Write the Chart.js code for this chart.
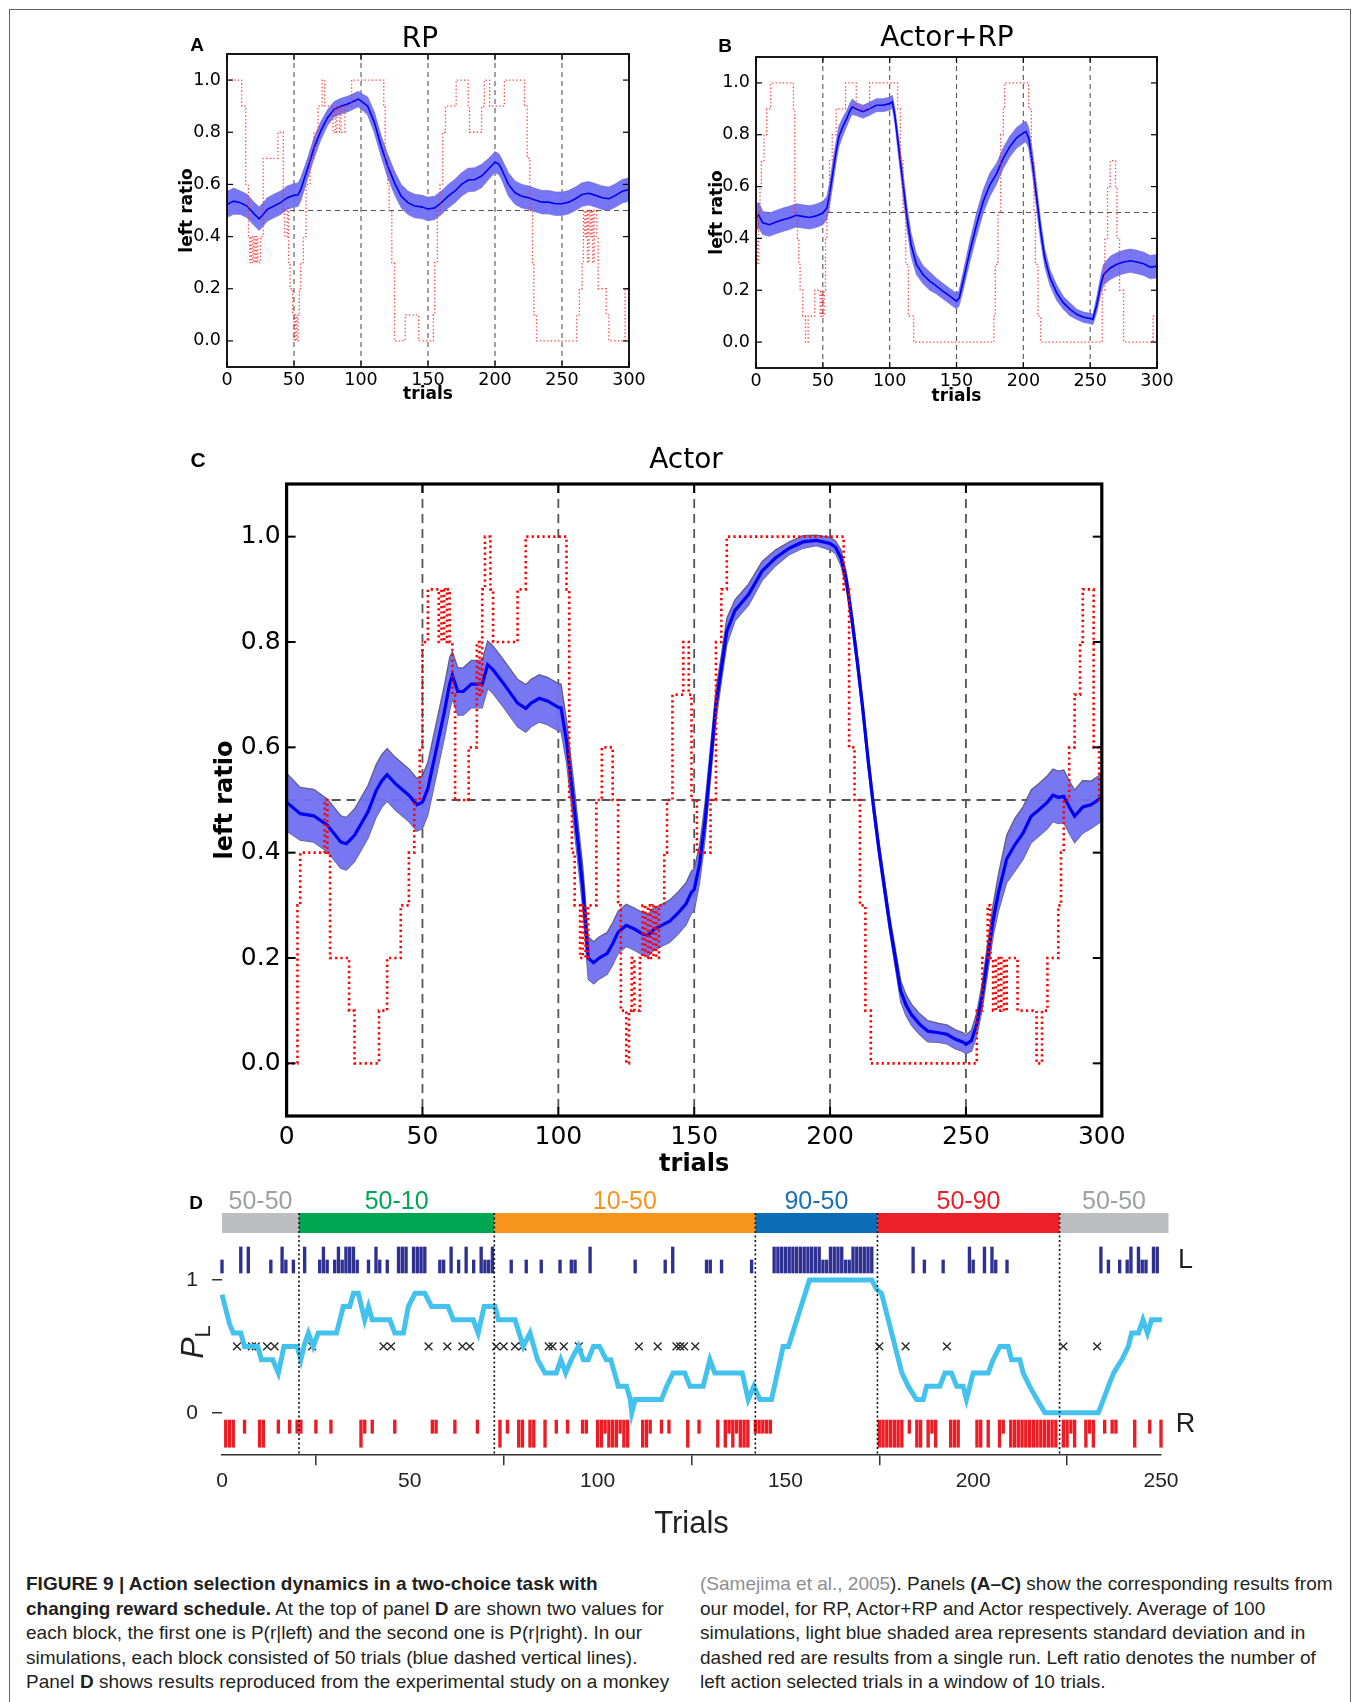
<!DOCTYPE html>
<html>
<head>
<meta charset="utf-8">
<script src="https://cdn.jsdelivr.net/npm/chart.js@4.4.1/dist/chart.umd.min.js"></script>
<style>
html, body { margin: 0; padding: 0; background: #fff; }
body { width: 1359px; height: 1702px; position: relative; overflow: hidden; }
#box { position: absolute; left: 9px; top: 9px; width: 1340px; height: 1760px; border: 1px solid #666; border-bottom: none; }
canvas { position: absolute; }
.t { position: absolute; white-space: nowrap; line-height: 1; transform: translate(-50%, -50%); }
.letter { font-family: "Liberation Sans", Arial, sans-serif; font-weight: bold; font-size: 19px; color: #000; }
.ptitle { font-family: "DejaVu Sans", sans-serif; font-size: 28px; color: #000; }
.cap { position: absolute; font-size: 19px; line-height: 24.6px; color: #231f20; font-family: "Liberation Sans", Arial, sans-serif; }
.cap div { white-space: nowrap; }
.cite { color: #8c8e90; }
</style>
</head>
<body>
<div id="box"></div>

<canvas id="cA" width="495" height="370" style="left:165px;top:40px"></canvas>
<canvas id="cB" width="494" height="371" style="left:694px;top:40px"></canvas>
<canvas id="cC" width="945" height="715" style="left:200px;top:470px"></canvas>
<canvas id="cD" width="1070" height="380" style="left:150px;top:1170px"></canvas>

<div class="t letter" style="left:197px;top:44px">A</div>
<div class="t ptitle" style="left:420px;top:38px">RP</div>
<div class="t letter" style="left:725px;top:45px">B</div>
<div class="t ptitle" style="left:947px;top:37px">Actor+RP</div>
<div class="t letter" style="left:198px;top:459px;font-size:21px">C</div>
<div class="t ptitle" style="left:686px;top:459px">Actor</div>
<div class="t letter" style="left:196px;top:1202px">D</div>
<div class="t" style="left:192px;top:1342px;transform:translate(-50%,-50%) rotate(-90deg);font-family:'Liberation Sans',Arial,sans-serif;font-size:32px;color:#231f20"><i>P</i><span style="font-size:22px;position:relative;top:7px">L</span></div>

<div class="cap" style="left:26px;top:1572px">
  <div><b>FIGURE 9 | Action selection dynamics in a two-choice task with</b></div>
  <div><b>changing reward schedule.</b> At the top of panel <b>D</b> are shown two values for</div>
  <div>each block, the first one is P(r|left) and the second one is P(r|right). In our</div>
  <div>simulations, each block consisted of 50 trials (blue dashed vertical lines).</div>
  <div>Panel <b>D</b> shows results reproduced from the experimental study on a monkey</div>
</div>
<div class="cap" style="left:700px;top:1572px">
  <div><span class="cite">(Samejima et al., 2005</span>). Panels <b>(A–C)</b> show the corresponding results from</div>
  <div>our model, for RP, Actor+RP and Actor respectively. Average of 100</div>
  <div>simulations, light blue shaded area represents standard deviation and in</div>
  <div>dashed red are results from a single run. Left ratio denotes the number of</div>
  <div>left action selected trials in a window of 10 trials.</div>
</div>

<script>
// --- tick labels / reference lines shared by A-C ---
const xTicks = [0, 50, 100, 150, 200, 250, 300];
const yTicks = [0, 0.2, 0.4, 0.6, 0.8, 1.0];
const dashedTrials = [50, 100, 150, 200, 250];
const chanceLevel = 0.5;

// --- A: RP ---
const rpTrials = [0,5,10,15,20,24,27,30,35,40,45,50,53,55,60,65,70,75,80,85,90,95,98,100,105,110,115,120,125,130,135,140,145,150,155,160,165,170,175,180,185,190,195,200,203,205,210,215,220,225,230,235,240,245,250,255,260,265,270,275,280,285,290,295,300];
const rpMean = [.523,.536,.53,.517,.488,.468,.485,.504,.517,.53,.549,.558,.56,.58,.658,.741,.805,.856,.888,.90,.908,.92,.927,.92,.90,.837,.747,.67,.606,.555,.53,.517,.514,.506,.51,.53,.555,.574,.60,.617,.619,.632,.658,.686,.677,.658,.60,.568,.555,.549,.54,.532,.532,.526,.526,.532,.545,.561,.566,.558,.549,.545,.558,.574,.58];
const rpSd = [.05,.05,.045,.045,.045,.045,.045,.045,.045,.045,.045,.045,.045,.045,.04,.04,.035,.03,.03,.03,.03,.03,.03,.03,.035,.04,.04,.045,.045,.045,.045,.045,.045,.045,.045,.045,.045,.045,.045,.045,.045,.045,.04,.04,.04,.04,.045,.045,.045,.045,.045,.045,.045,.045,.045,.045,.045,.045,.045,.045,.045,.045,.045,.045,.045];
const rpRun = [[0,1.0],[11,0.9],[14,0.6],[16,0.4],[17,0.3],[18,0.4],[19,0.3],[20,0.4],[21,0.3],[22,0.4],[23,0.3],[25,0.4],[27,0.7],[38,0.8],[42,0.5],[43,0.4],[45,0.5],[46,0.3],[47,0.2],[49,0.1],[50,0.0],[51,0.1],[52,0.0],[53,0.1],[54,0.2],[55,0.3],[57,0.4],[59,0.6],[62,0.7],[65,0.8],[68,0.9],[71,1.0],[73,0.9],[79,0.8],[81,0.9],[82,0.8],[84,0.9],[85,0.8],[88,0.9],[93,1.0],[117,0.9],[118,0.7],[120,0.6],[121,0.5],[123,0.3],[125,0.0],[133,0.1],[143,0.0],[154,0.1],[155,0.3],[157,0.5],[159,0.6],[161,0.8],[163,0.9],[171,1.0],[180,0.9],[181,0.8],[190,0.9],[192,1.0],[196,0.9],[207,1.0],[222,0.9],[224,0.7],[226,0.5],[228,0.3],[229,0.1],[231,0.0],[261,0.1],[263,0.2],[265,0.3],[266,0.5],[267,0.4],[268,0.5],[269,0.3],[270,0.5],[271,0.4],[272,0.5],[273,0.3],[274,0.5],[276,0.4],[277,0.2],[283,0.1],[285,0.0],[297,0.2],[300,0.2]];

// --- B: Actor+RP ---
const arpTrials = [0,2,5,10,15,20,25,30,35,40,45,50,53,55,58,60,62,65,68,70,72,75,80,85,90,95,100,102,104,107,110,113,116,120,125,130,135,140,145,150,152,155,160,165,170,175,180,185,190,195,200,202,204,207,210,213,216,220,225,230,235,240,245,250,252,255,258,260,265,270,275,280,285,290,295,300];
const arpMean = [.479,.49,.46,.453,.463,.472,.479,.489,.485,.481,.487,.498,.517,.569,.67,.736,.793,.832,.864,.889,.908,.899,.889,.90,.914,.914,.92,.927,.869,.74,.61,.479,.376,.30,.26,.235,.216,.196,.177,.158,.17,.235,.35,.453,.543,.607,.65,.71,.755,.788,.807,.812,.788,.685,.555,.427,.325,.248,.19,.151,.126,.107,.096,.091,.087,.145,.222,.26,.286,.30,.309,.314,.309,.302,.289,.293];
const arpSd = [.05,.05,.045,.045,.045,.045,.045,.045,.045,.045,.045,.045,.045,.045,.045,.04,.04,.035,.03,.03,.03,.025,.025,.025,.025,.025,.025,.025,.03,.04,.045,.045,.045,.04,.035,.035,.03,.03,.03,.03,.03,.035,.04,.045,.045,.045,.04,.04,.04,.04,.04,.04,.04,.045,.045,.04,.035,.03,.03,.025,.025,.02,.02,.02,.02,.03,.035,.04,.045,.045,.045,.045,.045,.045,.045,.045];
const arpRun = [[0,0.4],[1,0.3],[2,0.5],[3,0.6],[4,0.7],[6,0.8],[8,0.9],[11,1.0],[28,0.9],[29,0.5],[31,0.4],[32,0.3],[33,0.2],[35,0.1],[37,0.0],[39,0.1],[44,0.2],[48,0.1],[49,0.2],[50,0.1],[51,0.2],[52,0.4],[53,0.5],[55,0.7],[57,0.8],[60,0.9],[67,1.0],[75,0.9],[85,1.0],[106,0.9],[108,0.7],[110,0.5],[112,0.3],[114,0.1],[118,0.0],[178,0.1],[179,0.3],[181,0.5],[183,0.8],[185,0.9],[186,1.0],[204,0.9],[206,0.7],[208,0.5],[209,0.3],[211,0.1],[213,0.0],[259,0.2],[261,0.4],[263,0.6],[265,0.7],[269,0.6],[270,0.4],[272,0.2],[275,0.0],[297,0.1],[300,0.1]];

// --- C: Actor ---
const actTrials = [0,5,10,15,20,22,25,30,33,35,37,40,45,48,50,52,55,58,60,61,63,65,68,72,74,76,80,85,88,90,93,96,100,101,103,106,109,111,113,115,118,120,122,125,128,131,133,135,138,141,144,147,149,150,152,154,156,158,160,162,165,170,175,180,185,190,195,200,202,204,206,208,210,212,214,216,218,220,222,224,226,228,230,233,236,240,243,246,249,250,252,254,256,258,260,262,265,268,271,274,277,280,282,284,286,288,290,293,296,300];
const actMean = [.496,.474,.47,.452,.42,.417,.433,.478,.518,.536,.548,.531,.509,.491,.496,.522,.594,.666,.72,.737,.706,.706,.72,.72,.757,.747,.72,.684,.674,.684,.693,.688,.676,.675,.612,.478,.334,.2,.191,.2,.209,.227,.249,.262,.255,.246,.243,.254,.262,.27,.285,.303,.325,.33,.379,.46,.57,.68,.75,.82,.86,.89,.935,.96,.978,.99,.993,.987,.98,.96,.917,.845,.764,.675,.576,.487,.406,.334,.262,.2,.137,.11,.092,.074,.061,.058,.055,.046,.04,.036,.043,.074,.128,.2,.272,.325,.388,.415,.437,.469,.482,.496,.509,.505,.507,.487,.469,.487,.491,.505];
const actSd = [.055,.05,.05,.05,.05,.05,.05,.05,.05,.05,.05,.05,.05,.05,.05,.05,.05,.05,.05,.045,.045,.045,.045,.045,.045,.045,.045,.045,.045,.045,.045,.045,.045,.045,.04,.04,.04,.04,.04,.04,.04,.04,.04,.04,.04,.04,.04,.04,.04,.04,.04,.04,.04,.04,.035,.035,.03,.03,.025,.025,.02,.02,.018,.015,.012,.012,.01,.012,.012,.015,.015,.015,.015,.015,.015,.015,.015,.015,.015,.018,.02,.02,.02,.02,.02,.018,.018,.018,.018,.018,.02,.022,.025,.028,.03,.035,.045,.05,.05,.05,.05,.05,.05,.05,.05,.05,.05,.05,.045,.045];
const actRun = [[0,0.0],[4,0.3],[5,0.4],[14,0.5],[15,0.4],[16,0.2],[23,0.1],[25,0.0],[34,0.1],[37,0.2],[42,0.3],[45,0.4],[47,0.5],[49,0.6],[50,0.8],[52,0.9],[56,0.8],[57,0.9],[58,0.8],[59,0.9],[60,0.8],[61,0.7],[62,0.5],[67,0.6],[70,0.8],[71,0.7],[72,0.9],[73,1.0],[75,0.9],[76,0.8],[85,0.9],[88,1.0],[103,0.9],[104,0.5],[105,0.4],[106,0.3],[108,0.2],[109,0.3],[110,0.2],[111,0.3],[114,0.5],[116,0.6],[120,0.5],[122,0.3],[123,0.1],[125,0.0],[126,0.1],[127,0.2],[128,0.1],[130,0.2],[131,0.3],[132,0.2],[133,0.3],[134,0.2],[135,0.3],[136,0.2],[137,0.3],[139,0.4],[140,0.5],[142,0.7],[146,0.8],[148,0.7],[149,0.5],[151,0.4],[156,0.5],[158,0.8],[160,0.9],[162,1.0],[205,0.9],[207,0.6],[209,0.5],[211,0.3],[213,0.1],[215,0.0],[254,0.1],[256,0.2],[258,0.3],[259,0.2],[260,0.1],[261,0.2],[262,0.1],[263,0.2],[264,0.1],[265,0.2],[269,0.1],[276,0.0],[278,0.1],[280,0.2],[284,0.3],[285,0.4],[286,0.5],[288,0.6],[290,0.7],[292,0.8],[293,0.9],[297,0.6],[299,0.5],[300,0.5]];

// --- D: monkey data (Samejima et al.) ---
const dTicks = [0, 50, 100, 150, 200, 250];
const plTicks = [0, 1];
const blockLabels = ['50-50', '50-10', '10-50', '90-50', '50-90', '50-50'];
const blockEdges = [0, 20.5, 72.5, 142, 174.5, 223, 252];
const blockColors = ['#bcbec0', '#00a651', '#f7941d', '#0a6db5', '#ec2029', '#bcbec0'];
const blockTextColors = ['#9d9fa2', '#00a651', '#f7941d', '#1a6fb5', '#ec2029', '#9d9fa2'];
const plTrials = [0,1,2,3,5,6,9.5,10.5,13.5,15,16.5,20,21,22,23,24.3,25.6,30.5,32.3,34,35,36.3,38,39,40,44.7,46,48.3,49.6,51.4,54,55.8,60.2,61.6,66.9,68.2,69.8,72.7,73.6,78,80.2,82,84,86,89,90.2,91.5,93,94.9,96.2,97.5,98.9,100.5,102.3,103.5,105.5,107.7,108.7,109.1,110,117,118.4,120.1,123.2,124.6,128.1,129.9,131.2,138.5,140.1,141.6,143.2,146.3,149.4,150.8,156.4,173,174.3,175.6,181,182.7,184.9,186.7,187.6,191.1,192.5,194.2,195.6,197.3,198.2,200,204,205.3,207.1,209.3,210.2,212.4,213.3,215,217,219.1,233.3,234.7,236,237.4,239.6,241.3,242.2,244,245.2,246.4,247.5,250.3];
const plValues = [0.89,0.78,0.67,0.6,0.6,0.5,0.5,0.4,0.4,0.3,0.5,0.5,0.4,0.52,0.6,0.5,0.6,0.6,0.8,0.8,0.9,0.9,0.7,0.8,0.7,0.7,0.6,0.6,0.8,0.9,0.9,0.8,0.8,0.7,0.7,0.6,0.8,0.8,0.7,0.7,0.5,0.6,0.4,0.3,0.3,0.4,0.3,0.4,0.5,0.4,0.4,0.5,0.5,0.4,0.4,0.2,0.2,0.1,0.0,0.1,0.1,0.2,0.3,0.3,0.2,0.2,0.4,0.3,0.3,0.1,0.2,0.1,0.1,0.5,0.5,1.0,1.0,0.93,0.9,0.3,0.2,0.1,0.1,0.2,0.2,0.3,0.3,0.2,0.2,0.1,0.3,0.3,0.4,0.5,0.5,0.4,0.4,0.3,0.2,0.1,0.0,0.0,0.1,0.2,0.3,0.4,0.5,0.6,0.6,0.7,0.6,0.7,0.7];
const skipTrials = [4,8,9,12,14,24,43,45,55,60,64,66,73,75,78,80,87,88,91,95,111,116,121,122,123,126,175,182,193,224,233];
const leftTall = [5,7,16,22,27,31,33,34,35,41,47,48,49,51,52,53,54,61,65,69,72,98,120,147,148,149,150,151,152,153,154,155,156,157,158,159,162,163,164,165,168,169,170,171,172,173,184,199,203,205,234,242,244,248,249];
const leftShort = [0,13,17,19,26,28,30,32,36,39,42,44,58,59,63,67,70,71,77,81,85,90,93,94,110,118,129,130,133,141,160,161,166,167,187,192,200,206,209,236,239,241,245,246];
const rightTall = [1,2,3,10,11,37,74,79,80,82,83,86,100,101,103,104,105,107,108,112,113,124,132,134,136,138,139,140,175,176,177,178,179,180,181,185,186,188,190,194,195,196,201,202,204,207,210,211,212,213,214,215,216,217,218,219,220,221,222,224,225,227,230,232,243,250];
const rightShort = [6,15,18,20,21,25,29,38,40,46,56,57,62,68,76,89,92,96,97,102,106,114,117,119,127,135,137,142,143,144,145,146,183,189,208,226,231,235,237,238,247];

Chart.defaults.font.family = '"DejaVu Sans", sans-serif';
Chart.defaults.color = '#000';

function seg(ctx, x0, y0, x1, y1) {
    ctx.beginPath();
    ctx.moveTo(x0, y0);
    ctx.lineTo(x1, y1);
    ctx.stroke();
}

// matplotlib-like box: dashed guides, inward ticks, black frame
function framePlugin(st) {
    return {
        id: 'frame',
        beforeDatasetsDraw(chart) {
            const { ctx, chartArea: a, scales: { x, y } } = chart;
            ctx.save();
            ctx.strokeStyle = st.dashColor;
            ctx.lineWidth = st.dashW;
            ctx.setLineDash(st.dash);
            dashedTrials.forEach(v => {
                const px = x.getPixelForValue(v);
                seg(ctx, px, a.top, px, a.bottom);
            });
            const py = y.getPixelForValue(chanceLevel);
            seg(ctx, a.left, py, a.right, py);
            ctx.restore();
        },
        afterDatasetsDraw(chart) {
            const { ctx, chartArea: a, scales: { x, y } } = chart;
            ctx.save();
            ctx.strokeStyle = '#000';
            ctx.lineWidth = st.tickW;
            xTicks.forEach(v => {
                const px = x.getPixelForValue(v);
                seg(ctx, px, a.bottom, px, a.bottom - st.tickLen);
                seg(ctx, px, a.top, px, a.top + st.tickLen);
            });
            yTicks.forEach(v => {
                const py = y.getPixelForValue(v);
                seg(ctx, a.left, py, a.left + st.tickLen, py);
                seg(ctx, a.right, py, a.right - st.tickLen, py);
            });
            ctx.lineWidth = st.frameW;
            ctx.strokeRect(a.left, a.top, a.width, a.height);
            ctx.restore();
        }
    };
}

function ratioChart(id, trials, mean, sd, run, st) {
    const lower = trials.map((t, i) => ({ x: t, y: mean[i] - sd[i] }));
    const upper = trials.map((t, i) => ({ x: t, y: mean[i] + sd[i] }));
    const avg = trials.map((t, i) => ({ x: t, y: mean[i] }));
    const single = run.map(p => ({ x: p[0], y: p[1] }));
    return new Chart(document.getElementById(id), {
        type: 'line',
        data: {
            datasets: [
                { data: lower, borderColor: st.bandEdge, borderWidth: st.bandEdgeW, fill: false, order: 3 },
                { data: upper, borderColor: st.bandEdge, borderWidth: st.bandEdgeW, backgroundColor: st.band, fill: '-1', order: 2 },
                { data: avg, borderColor: '#0000f5', borderWidth: st.meanW, fill: false, order: 1 },
                { data: single, borderColor: st.runColor, borderWidth: st.runW, borderDash: st.runDash, stepped: 'before', fill: false, order: 0 }
            ]
        },
        options: {
            responsive: false,
            devicePixelRatio: 1,
            animation: false,
            layout: { padding: { left: 0, top: st.padTop, right: st.padRight, bottom: 0 } },
            elements: { point: { radius: 0 }, line: { tension: 0 } },
            plugins: { legend: { display: false }, tooltip: { enabled: false } },
            scales: {
                x: {
                    type: 'linear', min: 0, max: 300,
                    grid: { display: false, drawTicks: false }, border: { display: false },
                    afterBuildTicks: s => { s.ticks = xTicks.map(v => ({ value: v })); },
                    afterFit: s => { s.height = st.xH; s.paddingLeft = 0; s.paddingRight = 0; },
                    ticks: { font: { size: st.tickSize }, padding: st.xLabelPad, maxRotation: 0, autoSkip: false, callback: v => v },
                    title: { display: true, text: 'trials', font: { size: st.labelSize, weight: 'bold' }, padding: { top: 0, bottom: st.xTitlePad } }
                },
                y: {
                    type: 'linear', min: -0.1, max: 1.1,
                    grid: { display: false, drawTicks: false }, border: { display: false },
                    afterBuildTicks: s => { s.ticks = yTicks.map(v => ({ value: v })); },
                    afterFit: s => { s.width = st.yW; s.paddingTop = 0; s.paddingBottom = 0; },
                    ticks: { font: { size: st.tickSize }, padding: st.yLabelPad, callback: v => v.toFixed(1) },
                    title: { display: true, text: 'left ratio', font: { size: st.labelSize, weight: 'bold' }, padding: { top: st.yTitlePad, bottom: 0 } }
                }
            }
        },
        plugins: [framePlugin(st)]
    });
}

const smallStyle = {
    tickSize: 17.5, labelSize: 17, xH: 43, yW: 62, padTop: 14, padRight: 31,
    xLabelPad: 3, yLabelPad: 6, xTitlePad: 5, yTitlePad: 12,
    band: 'rgba(112,112,245,0.95)', bandEdge: 'rgba(90,90,190,0.7)', bandEdgeW: 0.8,
    meanW: 1.6, runColor: 'rgba(255,40,40,0.85)', runW: 1.3, runDash: [1.4, 2.2],
    dashColor: '#555', dashW: 1.1, dash: [5, 4], tickLen: 6, tickW: 1.2, frameW: 1.8
};

ratioChart('cA', rpTrials, rpMean, rpSd, rpRun, smallStyle);
ratioChart('cB', arpTrials, arpMean, arpSd, arpRun, Object.assign({}, smallStyle, { padTop: 17, xTitlePad: 4, yTitlePad: 13 }));
ratioChart('cC', actTrials, actMean, actSd, actRun, {
    tickSize: 25, labelSize: 24, xH: 69, yW: 86.6, padTop: 14, padRight: 43.2,
    xLabelPad: 6, yLabelPad: 6, xTitlePad: 6, yTitlePad: 11,
    band: 'rgba(112,112,240,0.95)', bandEdge: 'rgba(85,85,125,0.9)', bandEdgeW: 1.3,
    meanW: 3.2, runColor: '#ff0000', runW: 2.6, runDash: [2.2, 3.2],
    dashColor: '#555', dashW: 1.8, dash: [9, 6], tickLen: 9, tickW: 2, frameW: 3.2
});

// --- panel D ---
const blockPlugin = {
    id: 'blocks',
    afterDatasetsDraw(chart) {
        const { ctx, scales: { x, y } } = chart;
        const yTop = y.getPixelForValue(1.505), yBot = y.getPixelForValue(1.354);
        ctx.save();
        ctx.textAlign = 'center';
        ctx.textBaseline = 'middle';
        ctx.font = '25px "Liberation Sans", Arial, sans-serif';
        blockLabels.forEach((lab, i) => {
            const x0 = x.getPixelForValue(blockEdges[i]);
            const x1 = x.getPixelForValue(blockEdges[i + 1]);
            ctx.fillStyle = blockColors[i];
            ctx.fillRect(x0, yTop, x1 - x0, yBot - yTop);
            ctx.fillStyle = blockTextColors[i];
            ctx.fillText(lab, (x0 + x1) / 2, y.getPixelForValue(1.59));
        });
        ctx.font = '27px "Liberation Sans", Arial, sans-serif';
        ctx.fillStyle = '#231f20';
        ctx.fillText('L', x.getPixelForValue(256.5), y.getPixelForValue(1.15));
        ctx.fillText('R', x.getPixelForValue(256.5), y.getPixelForValue(-0.09));
        ctx.strokeStyle = '#111';
        ctx.lineWidth = 1.6;
        ctx.setLineDash([2, 2.5]);
        blockEdges.slice(1, -1).forEach(v => {
            const px = x.getPixelForValue(v);
            seg(ctx, px, yTop, px, y.getPixelForValue(-0.32));
        });
        ctx.restore();
    }
};

const navy = '#2e3192', red = '#ed1c24';
const rasterBar = (trials, lo, hi, color) => ({
    data: trials.map(t => ({ x: t, y: [lo, hi] })),
    backgroundColor: color, barThickness: 2.7, grouped: false, order: 2, clip: false
});
const dFont = { family: '"Liberation Sans", Arial, sans-serif', size: 21 };

new Chart(document.getElementById('cD'), {
    type: 'bar',
    data: {
        datasets: [
            { type: 'line', data: plTrials.map((t, i) => ({ x: t, y: plValues[i] })), borderColor: '#44c2ee', borderWidth: 5, pointRadius: 0, tension: 0, fill: false, order: 0, clip: false },
            { type: 'scatter', data: skipTrials.map(t => ({ x: t, y: 0.5 })), pointStyle: 'crossRot', pointRadius: 5.5, borderColor: '#2a2a2a', borderWidth: 1.4, order: 1 },
            rasterBar(leftTall, 1.053, 1.249, navy),
            rasterBar(leftShort, 1.053, 1.151, navy),
            rasterBar(rightTall, -0.26, -0.055, red),
            rasterBar(rightShort, -0.155, -0.055, red)
        ]
    },
    options: {
        responsive: false,
        devicePixelRatio: 1,
        animation: false,
        layout: { padding: { left: 0, top: 10.5, right: 59, bottom: 0 } },
        plugins: { legend: { display: false }, tooltip: { enabled: false } },
        scales: {
            x: {
                type: 'linear', min: 0, max: 250, offset: false,
                grid: { drawOnChartArea: false, drawTicks: true, tickLength: 10, color: '#333', lineWidth: 1.5 },
                border: { display: true, color: '#333', width: 1.5 },
                afterBuildTicks: s => { s.ticks = dTicks.map(v => ({ value: v })); },
                afterFit: s => { s.height = 94.8; s.paddingLeft = 0; s.paddingRight = 0; },
                ticks: { font: dFont, color: '#231f20', padding: 3, maxRotation: 0, autoSkip: false, callback: v => v },
                title: { display: true, text: 'Trials', color: '#231f20', font: { family: dFont.family, size: 31 }, padding: { top: 0, bottom: 7 } }
            },
            y: {
                type: 'linear', min: -0.32, max: 1.75,
                grid: { drawOnChartArea: false, drawTicks: true, tickLength: 10, color: '#333', lineWidth: 1.5 },
                border: { display: false },
                afterBuildTicks: s => { s.ticks = plTicks.map(v => ({ value: v })); },
                afterFit: s => { s.width = 72; s.paddingTop = 0; s.paddingBottom = 0; },
                ticks: { font: dFont, color: '#231f20', padding: 14, callback: v => v }
            }
        }
    },
    plugins: [blockPlugin]
});
</script>
</body>
</html>
